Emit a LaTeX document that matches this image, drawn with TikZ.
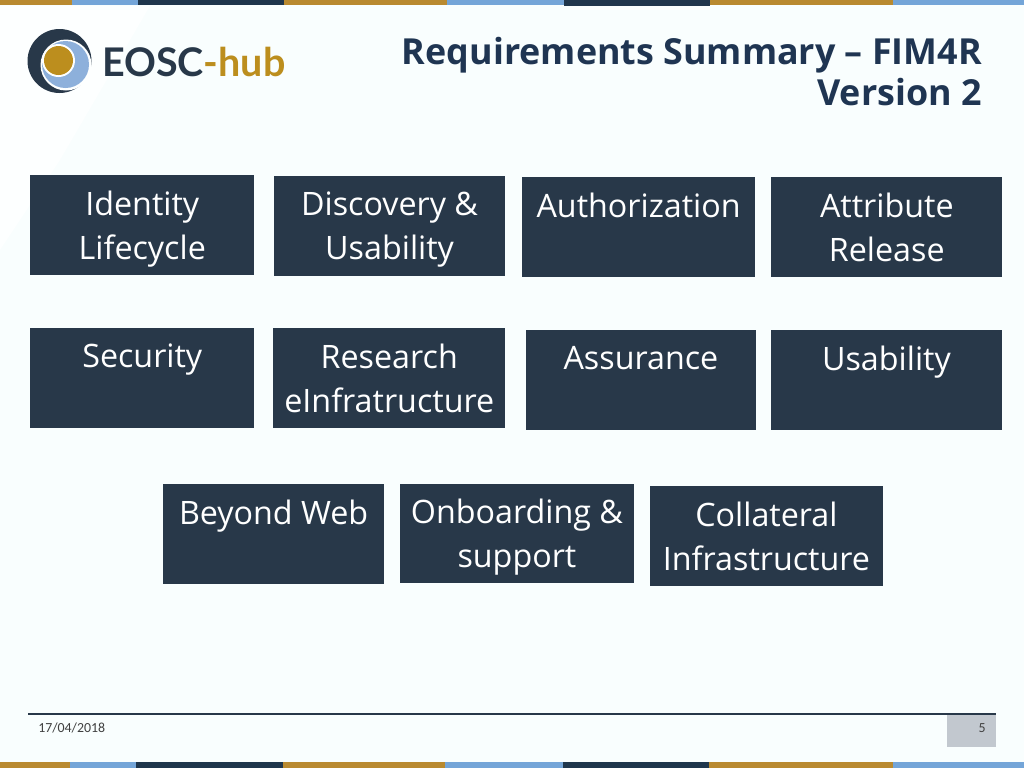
\documentclass[tikz,border=0pt]{standalone}
\usepackage{fontspec}
\setmainfont{Open Sans}
\newfontfamily\logofont{Lato}
\newfontfamily\footfont{Carlito}
\definecolor{navy}{HTML}{283849}
\definecolor{stripnavy}{HTML}{1F364C}
\definecolor{gold}{HTML}{B98A30}
\definecolor{logogold}{HTML}{BC8E1E}
\definecolor{sky}{HTML}{74A5D8}
\definecolor{logosky}{HTML}{8DB0DB}
\definecolor{titleblue}{HTML}{1F3552}
\definecolor{page}{HTML}{F9FEFE}
\definecolor{pagelight}{HTML}{FDFFFF}
\definecolor{pagenum}{HTML}{C2C8CF}

\begin{document}
\begin{tikzpicture}[x=0.75pt, y=-0.75pt,
  tile/.style = {fill=navy, text=white, font=\fontsize{24.2}{33}\selectfont, align=center, inner sep=0pt, text depth=0pt, minimum height=74.5pt, anchor=north west},
  foot/.style = {font=\footfont\fontsize{10.4}{12}\selectfont, text=black!75}]

\useasboundingbox (0, 0) rectangle (1024, 768);
\fill[page] (0, 0) rectangle (1024, 768);
\fill[pagelight] (0, 6) -- (150, 6) -- (60, 160) -- (0, 250) -- cycle;

% top and bottom strips
\fill[gold] (0, 0) rectangle (72, 5);
\fill[sky] (72, 0) rectangle (138, 5);
\fill[stripnavy] (138, 0) rectangle (284, 5);
\fill[gold] (284, 0) rectangle (447, 5);
\fill[sky] (447, 0) rectangle (564, 5);
\fill[stripnavy] (564, 0) rectangle (710, 6);
\fill[gold] (710, 0) rectangle (893, 5);
\fill[sky] (893, 0) rectangle (1024, 5);

\fill[gold] (0, 762) rectangle (70, 768);
\fill[sky] (70, 762) rectangle (136, 768);
\fill[stripnavy] (136, 762) rectangle (283, 768);
\fill[gold] (283, 762) rectangle (445, 768);
\fill[sky] (445, 762) rectangle (563, 768);
\fill[stripnavy] (563, 762) rectangle (709, 768);
\fill[gold] (709, 762) rectangle (893, 768);
\fill[sky] (893, 762) rectangle (1024, 768);

% logo
\fill[navy] (59.5, 61) circle (32);
\fill[pagelight] (66, 65) circle (25.5);
\fill[logosky] (65.5, 64.5) circle (23.5);
\fill[pagelight] (58.5, 60.5) circle (16.5);
\fill[logogold] (58.5, 60.5) circle (14.5);
\node[anchor=west, inner sep=0pt, font=\logofont\bfseries\fontsize{29.6}{30}\selectfont] (logo) at (102, 62)
  {\textcolor{navy}{EOSC}\textcolor{logogold}{-hub}};

% title
\node[anchor=north east, align=right, inner sep=0pt, text=titleblue, font=\bfseries\fontsize{26.9}{30.5}\selectfont] (title) at (982, 37)
  {Requirements Summary -- FIM4R\\Version 2};

% first row
\node[tile, minimum width=168pt] (identity) at (30, 175) {Identity\\Lifecycle};
\node[tile, minimum width=173pt] (discovery) at (274, 176) {Discovery \&\\Usability};
\node[tile, minimum width=174.5pt] (authz) at (522, 177) {Authorization\\\mbox{}};
\node[tile, minimum width=173.3pt] (attribute) at (771, 177) {Attribute\\Release};

% second row
\node[tile, minimum width=168pt] (security) at (30, 328) {Security\\\mbox{}};
\node[tile, minimum width=174pt] (research) at (273, 328) {Research\\eInfratructure};
\node[tile, minimum width=172pt] (assurance) at (526, 330) {Assurance\\\mbox{}};
\node[tile, minimum width=172.8pt] (usability) at (771, 330) {Usability\\\mbox{}};

% third row
\node[tile, minimum width=165.5pt] (beyond) at (163, 484) {Beyond Web\\\mbox{}};
\node[tile, minimum width=175pt, minimum height=74pt] (onboarding) at (400, 484) {Onboarding \&\\support};
\node[tile, minimum width=174.3pt] (collateral) at (650, 486) {Collateral\\Infrastructure};

% footer
\draw[navy, line width=1pt] (28, 714) -- (996, 714);
\fill[pagenum] (947, 715) rectangle (996, 747);
\node[foot, anchor=west, inner sep=0pt] (date) at (38, 728) {17/04/2018};
\node[foot, anchor=east, inner sep=0pt] (pagenr) at (986, 728) {5};
\end{tikzpicture}
\end{document}
